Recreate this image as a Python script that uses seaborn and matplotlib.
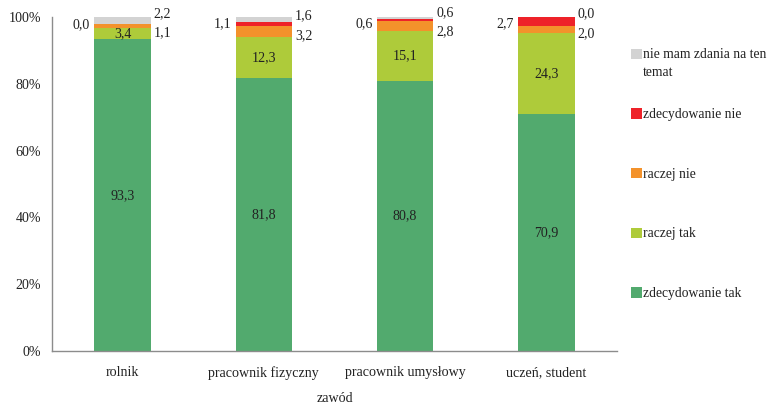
import numpy as np
import pandas as pd
import seaborn as sns
import matplotlib
matplotlib.use("Agg")
import matplotlib.pyplot as plt
from matplotlib.patches import Rectangle

## Data
categories = ["rolnik", "pracownik fizyczny", "pracownik umysłowy", "uczeń, student"]
series = ["zdecydowanie tak", "raczej tak", "raczej nie", "zdecydowanie nie",
          "nie mam zdania na ten temat"]
zdecydowanie_tak = [93.3, 81.8, 80.8, 70.9]
raczej_tak = [3.4, 12.3, 15.1, 24.3]
raczej_nie = [1.1, 3.2, 2.8, 2.0]
zdecydowanie_nie = [0.0, 1.1, 0.6, 2.7]
nie_mam_zdania = [2.2, 1.6, 0.6, 0.0]
legend_labels = ["zdecydowanie tak", "raczej tak", "raczej nie", "zdecydowanie nie",
                 "nie mam zdania na ten\ntemat"]
yticks = [0, 20, 40, 60, 80, 100]
ytick_labels = ["0%", "20%", "40%", "60%", "80%", "100%"]
colors = ["#52AA6E", "#AECB3A", "#F3922B", "#EE2229", "#D3D3D3"]

## Style
sns.set_style("white")
plt.rcParams['font.family'] = ['Liberation Serif', 'DejaVu Serif']
plt.rcParams['font.size'] = 10.1
txt = "#222222"
spine = "#8C8C8C"

## Table of cumulative values
vals = pd.DataFrame(dict(zip(series, [zdecydowanie_tak, raczej_tak, raczej_nie,
                                      zdecydowanie_nie, nie_mam_zdania])), index=categories)
cum = vals.cumsum(axis=1)

W, H = 769, 404
fig = plt.figure(figsize=(W / 100, H / 100), dpi=100)
ax = fig.add_axes([52 / W, 1 - 351 / H, 565 / W, 334 / H])

# draw from the top layer down so lower layers cover upper ones
for s, c in reversed(list(zip(series, colors))):
    d = cum[s].reset_index()
    d.columns = ["zawod", "v"]
    sns.barplot(d, x="zawod", y="v", color=c, width=0.4, saturation=1,
                edgecolor="none", linewidth=0, ax=ax, errorbar=None)

ax.set_xlim(-0.5, len(categories) - 0.5)
ax.set_ylim(0, 100)
ax.set_yticks(yticks)
ax.set_yticklabels(ytick_labels)
ax.set_ylabel("")
ax.set_xlabel("zawód", color=txt)
ax.xaxis.set_label_coords(0.5, -(392 - 351) / 334)
ax.set_xticks(range(len(categories)))
ax.set_xticklabels(categories)
ax.set_xticks(np.arange(-0.5, len(categories), 1), minor=True)
ax.tick_params(axis="x", which="major", length=0, pad=11, colors=txt)
ax.tick_params(axis="x", which="minor", length=4, direction="out", color=spine)
ax.tick_params(axis="y", length=4, direction="out", color=spine, colors=txt, pad=4)
for sp in ["top", "right"]:
    ax.spines[sp].set_visible(False)
for sp in ["left", "bottom"]:
    ax.spines[sp].set_color(spine)
    ax.spines[sp].set_linewidth(1.0)

## Value labels
fmt = lambda v: f"{v:.1f}".replace(".", ",")
hw = 0.2
for i, cat in enumerate(categories):
    row = vals.loc[cat]
    crow = cum.loc[cat]
    # large segments: inside
    for s in series[:2]:
        ax.text(i, crow[s] - row[s] / 2, fmt(row[s]), ha="center", va="center", color=txt)
    # right side: raczej nie + nie mam zdania, spread apart
    c_or = crow[series[2]] - row[series[2]] / 2
    c_gr = crow[series[4]] - row[series[4]] / 2
    mid = (c_or + c_gr) / 2
    ax.text(i + hw + 0.02, mid + 2.8, fmt(row[series[4]]), ha="left", va="center",
            color=txt, clip_on=False)
    ax.text(i + hw + 0.02, mid - 2.9, fmt(row[series[2]]), ha="left", va="center",
            color=txt, clip_on=False)
    # left side: zdecydowanie nie
    c_rd = crow[series[3]] - row[series[3]] / 2
    ax.text(i - hw - 0.03, min(c_rd, 98.0), fmt(row[series[3]]), ha="right", va="center",
            color=txt, clip_on=False)

## Legend (drawn by hand: handle sits beside the first text line)
sq = 10.5
y0, step = 54, 59.6
for k, (lab, c) in enumerate(zip(legend_labels[::-1], colors[::-1])):
    yc = y0 + k * step
    fig.patches.append(Rectangle((631 / W, 1 - (yc + sq / 2) / H), sq / W, sq / H,
                                 facecolor=c, edgecolor="none",
                                 transform=fig.transFigure, figure=fig))
    fig.text(643 / W, 1 - (yc - 5.5) / H, lab, ha="left", va="top", color=txt,
             fontsize=9.8, linespacing=1.45)

fig.savefig("out.png", dpi=100)
